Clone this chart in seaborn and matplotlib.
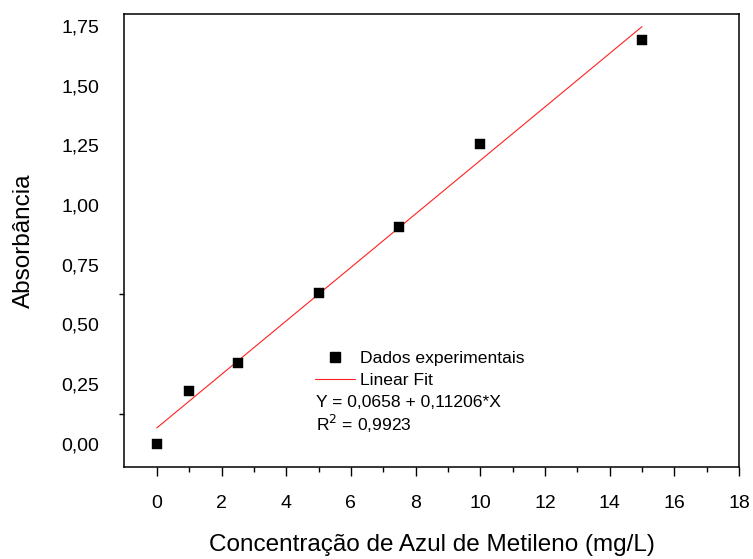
import matplotlib
matplotlib.use('Agg')
import matplotlib.pyplot as plt
import seaborn as sns
import numpy as np
import pandas as pd
from matplotlib.lines import Line2D

# --- data ---
concentracao = [0, 1, 2.5, 5, 7.5, 10, 15]
absorbancia = [0.0, 0.221, 0.336, 0.629, 0.906, 1.255, 1.693]

intercepto = 0.0658
inclinacao = 0.11206
r2 = 0.9923
fit_x = [0, 15]

x_ticks = list(range(0, 19, 2))
y_ticks = [0, 0.25, 0.5, 0.75, 1.0, 1.25, 1.5, 1.75]
y_ticklabels = ['0,00', '0,25', '0,50', '0,75', '1,00', '1,25', '1,50', '1,75']


def main():
    sns.set_theme(style="white")
    plt.rcParams['font.family'] = ['Liberation Sans', 'DejaVu Sans']
    plt.rcParams.update({
        'text.color': 'black', 'axes.labelcolor': 'black',
        'xtick.bottom': True, 'ytick.left': True,
        'xtick.direction': 'out', 'ytick.direction': 'out',
        'xtick.major.size': 6.5, 'xtick.minor.size': 3.6,
        'xtick.major.width': 1.0, 'xtick.minor.width': 1.0,
        'xtick.major.pad': 13.5, 'xtick.color': 'black',
        'ytick.major.size': 0, 'ytick.minor.size': 3.6,
        'ytick.minor.width': 1.0, 'ytick.major.pad': 18,
        'ytick.color': 'black',
    })

    df = pd.DataFrame({'x': concentracao, 'y': absorbancia})
    fit_y = [intercepto + inclinacao * v for v in fit_x]
    df_fit = pd.DataFrame({'x': fit_x, 'y': fit_y})

    fig = plt.figure(figsize=(7.53, 5.59), dpi=100)
    ax = fig.add_axes([0.1653, 0.1637, 0.8161, 0.8113])

    sns.lineplot(data=df_fit, x='x', y='y', ax=ax, color='#ff2020',
                 linewidth=0.8, label='Linear Fit')
    sns.scatterplot(data=df, x='x', y='y', ax=ax, marker='s', color='black',
                    s=52, edgecolor='black', linewidth=0.3,
                    label='Dados experimentais', zorder=3)

    ax.set_xlim(-1, 18)
    ax.set_ylim(-0.1, 1.8)

    ax.set_xticks(x_ticks)
    ax.set_xticklabels([str(t) for t in x_ticks], fontsize=14)
    ax.set_xticks(list(range(1, 18, 2)), minor=True)
    ax.set_yticks(y_ticks)
    ax.set_yticklabels(y_ticklabels, fontsize=14)
    ax.set_yticks([0.125, 0.625], minor=True)

    for sp in ax.spines.values():
        sp.set_color('black')
        sp.set_linewidth(1.1)

    ax.set_xlabel('Concentração de Azul de Metileno (mg/L)', fontsize=17.5)
    ax.set_ylabel('Absorbância', fontsize=17.5)
    ax.xaxis.set_label_coords(0.5, -0.147)
    ax.yaxis.set_label_coords(-0.146, 0.5)

    handles = [
        Line2D([], [], marker='s', color='black', linestyle='none',
               markersize=6.5),
        Line2D([], [], color='#ff2020', linewidth=0.8),
    ]
    labels = ['Dados experimentais', 'Linear Fit']
    ax.legend(handles=handles, labels=labels, frameon=False,
              fontsize=12.6, loc='upper left',
              bbox_to_anchor=(0.310, 0.258), handlelength=2.3,
              handletextpad=0.3, labelspacing=0.42, borderpad=0,
              borderaxespad=0, labelcolor='black')

    ax.text(0.311, 0.143, 'Y = 0,0658 + 0,11206*X', transform=ax.transAxes,
            fontsize=12.6, ha='left', va='center', color='black')
    ax.text(0.311, 0.096, 'R$^2$ = 0,9923', transform=ax.transAxes,
            fontsize=12.6, ha='left', va='center', color='black')

    plt.savefig('out.png', dpi=100)


if __name__ == '__main__':
    main()
